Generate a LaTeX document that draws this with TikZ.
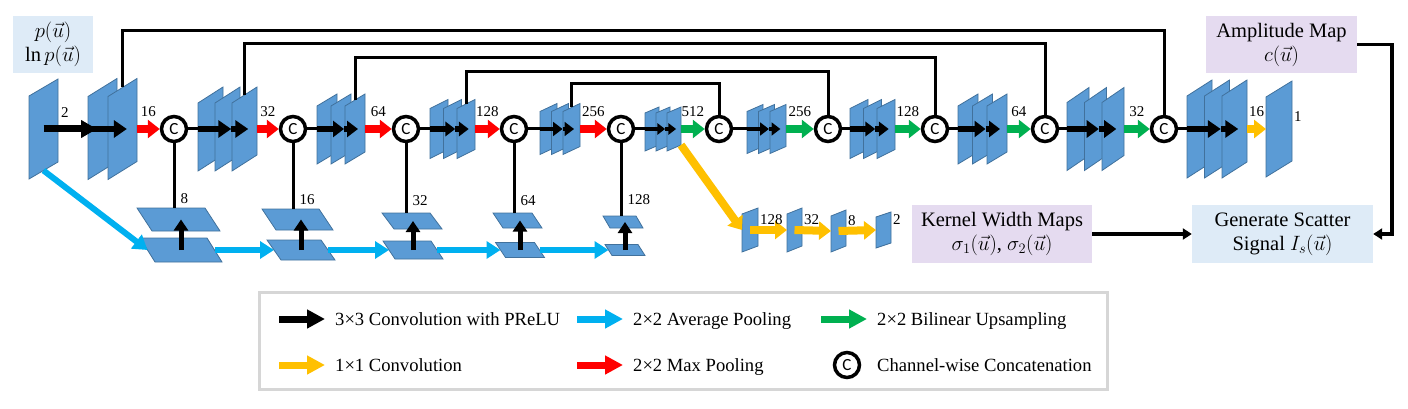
\documentclass[tikz,border=0pt]{standalone}
\usepackage{fontspec}
\setmainfont{Liberation Serif}
\newfontfamily\catfont{Carlito}
\usetikzlibrary{arrows.meta}

\definecolor{mapblue}{RGB}{91,155,213}
\definecolor{mapedge}{RGB}{65,113,156}
\definecolor{poolred}{RGB}{255,0,0}
\definecolor{upgreen}{RGB}{0,176,80}
\definecolor{avgblue}{RGB}{0,176,240}
\definecolor{oneyellow}{RGB}{255,192,0}
\definecolor{boxblue}{RGB}{222,235,247}
\definecolor{boxlilac}{RGB}{229,219,240}
\definecolor{legendgray}{RGB}{214,214,214}

\tikzset{
    fmap/.style={fill=mapblue, draw=mapedge, line width=0.8pt},
    wire/.style={line width=3pt},
    skipline/.style={line width=3pt},
    colarrow/.style={line width=8pt, -{Triangle[length=12pt,width=18pt]}},
    maxpool/.style={colarrow, poolred},
    bilinear/.style={colarrow, upgreen},
    oneconv/.style={colarrow, oneyellow},
    avgpool/.style={line width=6pt, avgblue, -{Triangle[length=14pt,width=17pt]}},
    bigconv/.style={line width=7pt, -{Triangle[length=16pt,width=17pt]}},
    upconv/.style={line width=5pt, -{Triangle[length=11pt,width=14pt]}},
    cat/.style={circle, draw, line width=3.5pt, fill=white, minimum size=25pt, inner sep=0pt, font=\catfont\fontsize{17}{17}\selectfont},
    lbl/.style={text=black, font=\fontsize{15}{15}\selectfont, inner sep=2pt},
    toplbl/.style={lbl, above=6pt},
    infobox/.style={align=center, font=\fontsize{20.5}{24}\selectfont, inner sep=0pt},
    legtext/.style={anchor=west, inner sep=0pt, text height=14pt, text depth=2pt, font=\fontsize{18.6}{20}\selectfont},
    legarrow/.style={line width=7pt, -{Triangle[length=18pt,width=18pt]}},
    flow/.style={line width=3.5pt, -{Triangle[length=9pt,width=11pt]}}
}

\newcommand{\fmap}[5]{\draw[fmap] ({#1},{#2-#4/2+#5/2}) -- ({#1+#3},{#2-#4/2-#5/2}) -- ({#1+#3},{#2+#4/2-#5/2}) -- ({#1},{#2+#4/2+#5/2}) -- cycle;}

\newcommand{\smap}[6]{\fmap{#2}{#3}{#4}{#5}{#6}
    \coordinate (#1) at ({#2+#4/2},{#3});
    \coordinate (#1-w) at ({#2},{#3});
    \coordinate (#1-e) at ({#2+#4},{#3});
    \coordinate (#1-s) at ({#2+#4/2},{#3+#5/2});}

\newcommand{\fstack}[8]{\foreach \k in {1,...,#5}{\fmap{#2+(\k-1)*#4}{#3}{#6}{#7}{#8}}
    \coordinate (#1-w) at ({#2},{#3});
    \coordinate (#1-e) at ({#2+(#5-1)*#4+#6},{#3});
    \coordinate (#1-k) at ({#2+(#5-1)*#4+#6/2},{#3-#7/2});
    \coordinate (#1-se) at ({#2+(#5-1)*#4+#6},{#3+#7/2-#8/2});
    \pgfmathsetmacro\arrl{min(0.55*#6,13)}
    \pgfmathsetmacro\arrw{min(0.8*#6,17)}
    \pgfmathsetmacro\arrs{min(0.28*#6,6)}
    \foreach \k in {2,...,#5}{\draw[line width=\arrs pt, -{Triangle[length=\arrl pt, width=\arrw pt]}] ({#2+(\k-2)*#4+(\k>2)*0.65*#6},{#3}) -- ({#2+(\k-1)*#4+0.65*#6},{#3});}}

\newcommand{\pmap}[6]{\draw[fmap] ({#2-(#4+#6)/2},{#3-#5/2}) -- ++(#4,0) -- ({#2+(#4+#6)/2},{#3+#5/2}) -- ++(-#4,0) -- cycle;
    \coordinate (#1) at (#2,#3);
    \coordinate (#1-w) at ({#2-#4/2},{#3});
    \coordinate (#1-e) at ({#2+#4/2},{#3});
    \coordinate (#1-n) at ({#2-#6/2},{#3-#5/2});}

\begin{document}
\begin{tikzpicture}[x=1pt, y=-1pt]
    \useasboundingbox (0,0) rectangle (1408,409);

    \node[infobox, fill=boxblue, minimum width=80pt, minimum height=57pt] (inbox) at (53,44.5) {$p(\vec{u})$\\$\ln p(\vec{u})$};
    \node[infobox, fill=boxlilac, minimum width=151pt, minimum height=57pt] (amp) at (1281.5,44.5) {Amplitude Map\\$c(\vec{u})$};
    \node[infobox, fill=boxlilac, minimum width=180pt, minimum height=58pt] (kern) at (1002,234) {Kernel Width Maps\\$\sigma_1(\vec{u})$, $\sigma_2(\vec{u})$};
    \node[infobox, fill=boxblue, minimum width=181pt, minimum height=58pt] (gen) at (1282.5,234) {Generate Scatter\\Signal $I_s(\vec{u})$};
    \draw[flow] (kern) -- (gen);
    \draw[flow] (amp.east) -- ++(35,0) |- (gen.east);

    \foreach \n/\x in {1/174,2/293,3/406,4/514,5/621,6/719,7/828,8/935,9/1045,10/1164}
        \node[cat] (c\n) at (\x,129) {C};

    \smap{inmap}{29}{129}{29}{83}{17}
    \fstack{s1}{88}{129}{20}{2}{29}{83}{18}
    \fstack{s2}{198}{129}{17}{3}{25}{68}{16}
    \fstack{s3}{317}{129}{14}{3}{20}{58}{12}
    \fstack{s4}{430}{129}{13.5}{3}{18}{50}{9}
    \fstack{s5}{540}{129}{11.5}{3}{17}{43}{8}
    \fstack{s6}{645}{129}{11}{3}{14}{38}{6}
    \fstack{s7}{747}{129}{11.5}{3}{16}{42}{7}
    \fstack{s8}{850}{129}{13.5}{3}{18}{50}{9}
    \fstack{s9}{958}{129}{14.5}{3}{20}{58}{12}
    \fstack{s10}{1067}{129}{17.5}{3}{22}{68}{15}
    \fstack{s11}{1187}{129}{17.5}{3}{25}{82}{16}
    \smap{out}{1266}{129}{26}{80}{16}

    \draw[skipline] (s1-k) |- ([yshift=98pt]c10.center) -- (c10);
    \draw[skipline] (s2-k) |- ([yshift=85pt]c9.center) -- (c9);
    \draw[skipline] (s3-k) |- ([yshift=71pt]c8.center) -- (c8);
    \draw[skipline] (s4-k) |- ([yshift=57pt]c7.center) -- (c7);
    \draw[skipline] (s5-k) |- ([yshift=45pt]c6.center) -- (c6);

    \draw[bigconv] (inmap) -- node[toplbl, pos=0.4] (n2) {2} ([xshift=9pt]s1-w);
    \draw[maxpool] (s1-e) -- node[toplbl] (n16) {16} (c1);
    \draw[wire] (c1) -- (s2-w);
    \draw[maxpool] (s2-e) -- node[toplbl] (n32) {32} (c2);
    \draw[wire] (c2) -- (s3-w);
    \draw[maxpool] (s3-e) -- node[toplbl] (n64) {64} (c3);
    \draw[wire] (c3) -- (s4-w);
    \draw[maxpool] (s4-e) -- node[toplbl] (n128) {128} (c4);
    \draw[wire] (c4) -- (s5-w);
    \draw[maxpool] (s5-e) -- node[toplbl] (n256) {256} (c5);
    \draw[wire] (c5) -- (s6-w);
    \draw[bilinear] (s6-e) -- node[toplbl] (n512) {512} (c6);
    \draw[wire] (c6) -- (s7-w);
    \draw[bilinear] (s7-e) -- node[toplbl] (u256) {256} (c7);
    \draw[wire] (c7) -- (s8-w);
    \draw[bilinear] (s8-e) -- node[toplbl] (u128) {128} (c8);
    \draw[wire] (c8) -- (s9-w);
    \draw[bilinear] (s9-e) -- node[toplbl] (u64) {64} (c9);
    \draw[wire] (c9) -- (s10-w);
    \draw[bilinear] (s10-e) -- node[toplbl] (u32) {32} (c10);
    \draw[wire] (c10) -- (s11-w);
    \draw[oneconv] (s11-e) -- node[toplbl] (u16) {16} (out-w);
    \node[lbl, anchor=west] (n1) at ([yshift=12pt]out-e) {1};

    \pmap{p1t}{178.5}{219.5}{68}{23}{15}
    \pmap{p1b}{181}{250}{67}{24}{15}
    \pmap{p2t}{297.5}{219.5}{57}{21}{14}
    \pmap{p2b}{301}{250}{54}{20}{14}
    \pmap{p3t}{412}{221}{48}{16}{12}
    \pmap{p3b}{413}{250}{48}{18}{12}
    \pmap{p4t}{517.5}{220.5}{39}{15}{10}
    \pmap{p4b}{520}{250}{39}{15}{10}
    \pmap{p5t}{623}{222}{33}{12}{7}
    \pmap{p5b}{625}{250}{33}{11}{7}

    \draw[wire] (c1) -- node[lbl, right=3pt, pos=0.86] (d8) {8} (c1 |- p1t-n);
    \draw[wire] (c2) -- node[lbl, right=3pt, pos=0.86] (d16) {16} (c2 |- p2t-n);
    \draw[wire] (c3) -- node[lbl, right=3pt, pos=0.82] (d32) {32} (c3 |- p3t-n);
    \draw[wire] (c4) -- node[lbl, right=3pt, pos=0.82] (d64) {64} (c4 |- p4t-n);
    \draw[wire] (c5) -- node[lbl, right=3pt, pos=0.78] (d128) {128} (c5 |- p5t-n);
    \foreach \p in {1,...,5}
        \draw[upconv] (p\p b) -- (p\p b |- p\p t);

    \draw[avgpool] (inmap-s) -- (p1b-w);
    \draw[avgpool] (p1b-e) -- (p2b-w);
    \draw[avgpool] (p2b-e) -- (p3b-w);
    \draw[avgpool] (p3b-e) -- (p4b-w);
    \draw[avgpool] (p4b-e) -- (p5b-w);

    \smap{b1}{742}{230}{16}{38}{6}
    \smap{b2}{787}{230}{15}{38}{6}
    \smap{b3}{831}{231}{15}{36}{6}
    \smap{b4}{876}{230}{15}{31}{5}
    \draw[oneconv] (s6-se) -- (b1-w);
    \draw[oneconv] (b1) -- (b2-w);
    \draw[oneconv] (b2) -- (b3-w);
    \draw[oneconv] (b3) -- (b4-w);
    \node[lbl, anchor=west] (k128) at ([yshift=10pt]b1-e) {128};
    \node[lbl, anchor=west] (k32) at ([yshift=10pt]b2-e) {32};
    \node[lbl, anchor=west] (k8) at ([yshift=10pt]b3-e) {8};
    \node[lbl, anchor=west] (k2) at ([yshift=10pt]b4-e) {2};

    \node[draw=legendgray, line width=3pt, minimum width=848pt, minimum height=97pt] (legend) at (683,340.5) {};
    \node[legtext] (lg1) at (335,319) {3×3 Convolution with PReLU};
    \node[legtext] (lg2) at (633,319) {2×2 Average Pooling};
    \node[legtext] (lg3) at (877,319) {2×2 Bilinear Upsampling};
    \node[legtext] (lg4) at (335,365) {1×1 Convolution};
    \node[legtext] (lg5) at (633,365) {2×2 Max Pooling};
    \node[legtext] (lg6) at (877,365) {Channel-wise Concatenation};
    \draw[legarrow] ([xshift=-56pt]lg1.west) -- ([xshift=-10pt]lg1.west);
    \draw[legarrow, avgblue] ([xshift=-56pt]lg2.west) -- ([xshift=-10pt]lg2.west);
    \draw[legarrow, upgreen] ([xshift=-56pt]lg3.west) -- ([xshift=-10pt]lg3.west);
    \draw[legarrow, oneyellow] ([xshift=-56pt]lg4.west) -- ([xshift=-10pt]lg4.west);
    \draw[legarrow, poolred] ([xshift=-56pt]lg5.west) -- ([xshift=-10pt]lg5.west);
    \node[cat] (lgc) at ([xshift=-30pt]lg6.west) {C};
\end{tikzpicture}
\end{document}
